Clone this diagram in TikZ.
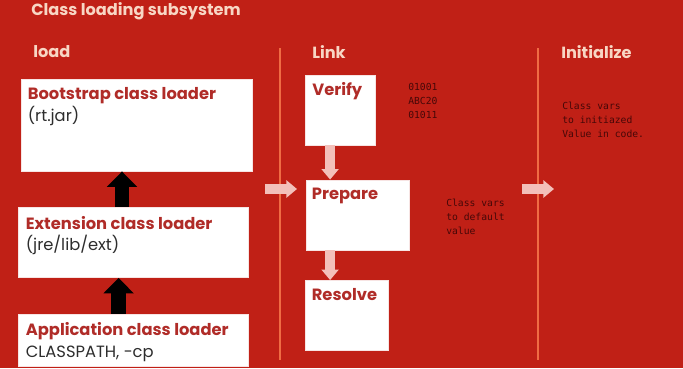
\documentclass[tikz,border=0pt]{standalone}
\usepackage{fontspec}
\setmainfont{Poppins}
\setmonofont{DejaVu Sans Mono}
\usetikzlibrary{arrows.meta,calc}
\definecolor{SlideClr}{RGB}{192,32,22}
\definecolor{HeadClr}{RGB}{248,214,196}
\definecolor{SepClr}{RGB}{240,108,68}
\definecolor{BoxTitleClr}{RGB}{176,44,40}
\definecolor{BoxTextClr}{RGB}{45,45,45}
\definecolor{StepArrClr}{RGB}{243,192,186}
\definecolor{NoteClr}{RGB}{70,8,8}

\begin{document}
\begin{tikzpicture}[x=0.025cm,y=-0.025cm,
  hdr/.style={font=\bfseries\fontsize{11.5}{13}\selectfont,text=HeadClr,inner sep=0,anchor=west},
  box/.style={fill=white,draw=white!88!SlideClr,line width=0.6pt,inner sep=0},
  txt/.style={align=left,inner sep=0,anchor=north west,text=BoxTextClr,
    font=\fontsize{11.6}{15}\selectfont},
  note/.style={align=left,inner sep=0,anchor=north west,text=NoteClr,
    font=\ttfamily\fontsize{6.9}{10}\selectfont},
  sep/.style={SepClr,line width=1.4pt},
  blk/.style={black,line width=10.5pt,-{Triangle[width=21pt,length=11pt]}},
  pnk/.style={StepArrClr,line width=7pt,-{Triangle[width=12pt,length=7.5pt]}}]
\useasboundingbox[fill=SlideClr] (0,0) rectangle (683,368);

\node[hdr] (title) at (31,11) {Class loading subsystem};
\node[hdr] (hload) at (33,52) {load};
\node[hdr] (hlink) at (312,52) {Link};
\node[hdr] (hinit) at (561,52) {Initialize};

\draw[sep] (280,48) -- (280,360);
\draw[sep] (538,48) -- (538,360);

% class loaders
\node[box,minimum width=5.775cm,minimum height=2.3cm] (boot) at (136.5,125) {};
\node[box,minimum width=5.75cm,minimum height=1.75cm] (ext) at (133,242.5) {};
\node[box,minimum width=5.75cm,minimum height=1.3cm] (app) at (133,340) {};
\node[txt] at ([shift={(7,9)}]boot.north west) {\textcolor{BoxTitleClr}{\bfseries Bootstrap class loader}\\(rt.jar)};
\node[txt] at ([shift={(8,9)}]ext.north west) {\textcolor{BoxTitleClr}{\bfseries Extension class loader}\\(jre/lib/ext)};
\node[txt] at ([shift={(8,9)}]app.north west) {\textcolor{BoxTitleClr}{\bfseries Application class loader}\\CLASSPATH, -cp};

\draw[blk] ([xshift=-2.75mm]ext.north) -- ([xshift=-2.75mm]ext.north |- boot.south);
\draw[blk] ([xshift=-3.6mm]app.north) -- ([xshift=-3.6mm]app.north |- ext.south);

% linking steps
\node[box,minimum width=1.75cm,minimum height=1.75cm] (verify) at (340.5,110) {};
\node[box,minimum width=2.575cm,minimum height=1.75cm] (prep) at (357.5,215) {};
\node[box,minimum width=2.075cm,minimum height=1.75cm] (res) at (346.5,315.5) {};
\node[txt,text=BoxTitleClr,font=\bfseries\fontsize{11.6}{15}\selectfont] at ([shift={(7,8)}]verify.north west) {Verify};
\node[txt,text=BoxTitleClr,font=\bfseries\fontsize{11.6}{15}\selectfont] at ([shift={(6,8)}]prep.north west) {Prepare};
\node[txt,text=BoxTitleClr,font=\bfseries\fontsize{11.6}{15}\selectfont] at ([shift={(7,8)}]res.north west) {Resolve};

\coordinate (lnk) at ([xshift=-2.6mm]verify.south);
\draw[pnk] (lnk) -- (lnk |- prep.north);
\draw[pnk] (lnk |- prep.south) -- (lnk |- res.north);

\coordinate (in1) at (265,189);
\coordinate (in1e) at (297,189);
\coordinate (in2) at (522,189);
\coordinate (in2e) at (554,189);
\draw[pnk] (in1) -- (in1e);
\draw[pnk] (in2) -- (in2e);

% notes
\node[note] (bytes) at (408,83) {01001\\ABC20\\01011};
\node[note] (defval) at (446,199) {Class vars\\to default\\value};
\node[note] (initval) at (562,102) {Class vars\\to initiazed\\Value in code.};
\end{tikzpicture}
\end{document}
